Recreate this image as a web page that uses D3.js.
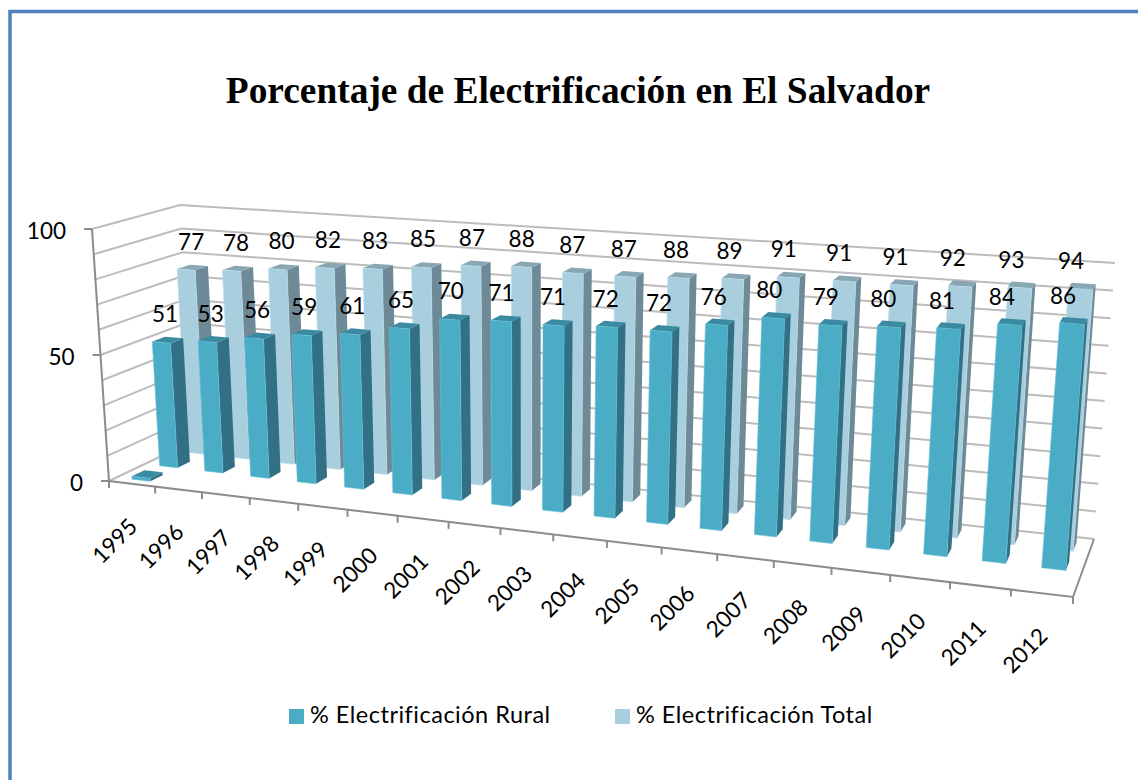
<!DOCTYPE html>
<html>
<head>
<meta charset="utf-8">
<script src="https://cdn.jsdelivr.net/npm/d3@7"></script>
<style>
  html, body { margin: 0; padding: 0; background: #fff; }
  svg { display: block; }
</style>
</head>
<body>
<div id="dataviz"></div>
<script>
const width = 1138;
const height = 780;

const years = ['1995','1996','1997','1998','1999','2000','2001','2002','2003','2004','2005','2006','2007','2008','2009','2010','2011','2012'];
const ruralValues = [51,53,56,59,61,65,70,71,71,72,72,76,80,79,80,81,84,86];
const totalValues = [77,78,80,82,83,85,87,88,87,87,88,89,91,91,91,92,93,94];
// the small flat block in front of 1995
const blankValues = [0];
const depthSeries = ['blank', 'rural', 'total'];
const yLabels = [0, 50, 100];
const gridValues = d3.range(0, 101, 10);
const legendItems = ['% Electrificación Rural', '% Electrificación Total'];

// box corners in the picture
const corners = {
    fbl: [109, 481], fbr: [1073, 597], bbl: [193, 441], bbr: [1094, 539],
    ftl: [92, 229], ftr: [1097, 297], btl: [180, 205], btr: [1115, 263]
};
const perspective = 1.17;

const xBand = d3.scaleBand().domain(years).range([0, 1]).paddingInner(0.6).paddingOuter(0.3).align(0.56);
const xEdge = d3.scaleLinear().domain([0, years.length]).range([0, 1]);
const depth = d3.scaleBand().domain(depthSeries).range([0, 1]).paddingInner(0.55).paddingOuter(0.275);
const yScale = d3.scaleLinear().domain([0, 100]).range([0, 1]);
// columns sit a touch under the gridlines
const barScale = d3.scaleLinear().domain([0, 100]).range([0, 0.99]);

const warp = (t) => t / (t + (1 - t) * perspective);
const lerp = (a, b, t) => [a[0] + (b[0] - a[0]) * t, a[1] + (b[1] - a[1]) * t];

// across, back, up are all 0..1
function project(across, back, up) {
    const t = warp(across);
    const bottom = lerp(lerp(corners.fbl, corners.fbr, t), lerp(corners.bbl, corners.bbr, t), back);
    const top = lerp(lerp(corners.ftl, corners.ftr, t), lerp(corners.btl, corners.btr, t), back);
    return lerp(bottom, top, up);
}

const poly = (pts) => 'M' + pts.map((p) => p.join(',')).join('L') + 'Z';

const svg = d3.select('#dataviz')
    .append('svg')
    .attr('width', width)
    .attr('height', height);

// page border
svg.append('path')
    .attr('d', 'M10,780V11.5H1138')
    .attr('fill', 'none')
    .attr('stroke', '#4f81bd')
    .attr('stroke-width', 3.5);

svg.append('text')
    .attr('x', 578)
    .attr('y', 103)
    .attr('text-anchor', 'middle')
    .attr('font-family', '"Liberation Serif"')
    .attr('font-weight', 'bold')
    .attr('font-size', 37.4)
    .text('Porcentaje de Electrificación en El Salvador');

// gridlines on the walls
const grid = svg.append('g')
    .attr('fill', 'none')
    .attr('stroke', '#bcbcbc')
    .attr('stroke-width', 2);

grid.selectAll('.wall')
    .data(gridValues)
    .enter()
    .append('path')
    .attr('class', 'wall')
    .attr('d', (v) => {
        const up = yScale(v);
        return d3.line()([project(0, 0, up), project(0, 1, up), project(1, 1, up)]);
    });

// axes
const axisColor = '#8c8c8c';
const axes = svg.append('g')
    .attr('fill', 'none')
    .attr('stroke', axisColor)
    .attr('stroke-width', 2);

axes.append('path').attr('d', d3.line()([project(0, 0, 1), project(0, 0, 0), project(1, 0, 0), project(1, 1, 0)]));

axes.selectAll('.ytick')
    .data(yLabels)
    .enter()
    .append('path')
    .attr('class', 'ytick')
    .attr('d', (v) => {
        const p = project(0, 0, yScale(v));
        return d3.line()([p, [p[0] - 8, p[1]]]);
    });

axes.selectAll('.xtick')
    .data(d3.range(0, years.length + 1))
    .enter()
    .append('path')
    .attr('class', 'xtick')
    .attr('d', (i) => {
        const p = project(xEdge(i), 0, 0);
        return d3.line()([p, [p[0], p[1] + 7]]);
    });

// one column: front, side and top faces
function drawBar(layer, across, series, value, colors) {
    const x0 = xBand(across);
    const x1 = x0 + xBand.bandwidth();
    const d0 = depth(series);
    const d1 = d0 + depth.bandwidth();
    const lift = value === 0 ? 0.012 : barScale(value);

    const bar = layer.append('g');
    bar.append('path')
        .attr('d', poly([project(x1, d0, 0), project(x1, d1, 0), project(x1, d1, lift), project(x1, d0, lift)]))
        .attr('fill', colors.side);
    bar.append('path')
        .attr('d', poly([project(x0, d0, lift), project(x1, d0, lift), project(x1, d1, lift), project(x0, d1, lift)]))
        .attr('fill', colors.top);
    bar.append('path')
        .attr('d', poly([project(x0, d0, 0), project(x1, d0, 0), project(x1, d0, lift), project(x0, d0, lift)]))
        .attr('fill', colors.front)
        .attr('stroke', colors.edge)
        .attr('stroke-width', 0.6);
}

const ruralColors = { front: '#4bacc6', side: '#317085', top: '#3a8aa1', edge: '#63c0d8' };
const totalColors = { front: '#a9cfde', side: '#6e8a97', top: '#88a7b3', edge: '#b8dce9' };

const barLayer = svg.append('g');
years.forEach((year, i) => drawBar(barLayer, year, 'total', totalValues[i], totalColors));
blankValues.forEach((v, i) => drawBar(barLayer, years[i], 'blank', v, ruralColors));
years.forEach((year, i) => drawBar(barLayer, year, 'rural', ruralValues[i], ruralColors));

const labelFont = { family: 'Lato', size: 22.5 };

function addLabels(values, series) {
    svg.append('g')
        .selectAll('text')
        .data(values)
        .enter()
        .append('text')
        .attr('x', (v, i) => project(xBand(years[i]) + xBand.bandwidth() / 2, depth(series), barScale(v) / 2)[0])
        .attr('y', (v, i) => project(xBand(years[i]) + xBand.bandwidth() / 2, depth(series), barScale(v))[1] - 20)
        .attr('text-anchor', 'middle')
        .attr('font-family', labelFont.family)
        .attr('font-size', labelFont.size)
        .attr('fill', '#000')
        .text((v) => v);
}
addLabels(totalValues, 'total');
addLabels(ruralValues, 'rural');

// y labels
svg.append('g')
    .selectAll('text')
    .data(yLabels)
    .enter()
    .append('text')
    .attr('x', (v) => project(0, 0, yScale(v))[0] - 26)
    .attr('y', (v) => project(0, 0, yScale(v))[1] + 10)
    .attr('text-anchor', 'end')
    .attr('font-family', labelFont.family)
    .attr('font-size', labelFont.size)
    .text((v) => v);

// x labels
svg.append('g')
    .selectAll('text')
    .data(years)
    .enter()
    .append('text')
    .attr('transform', (year) => {
        const p = project(xBand(year) + xBand.bandwidth() / 2, 0, 0);
        return `translate(${p[0] + 5},${p[1] + 44}) rotate(-45)`;
    })
    .attr('text-anchor', 'end')
    .attr('font-family', labelFont.family)
    .attr('font-size', labelFont.size)
    .text((year) => year);

// legend
const legendX = d3.scaleOrdinal().domain(legendItems).range([289, 615]);
const legendColor = d3.scaleOrdinal().domain(legendItems).range([ruralColors.front, totalColors.front]);

const legend = svg.append('g')
    .selectAll('g')
    .data(legendItems)
    .enter()
    .append('g');

legend.append('rect')
    .attr('x', (d) => legendX(d))
    .attr('y', 709)
    .attr('width', 15)
    .attr('height', 15)
    .attr('fill', (d) => legendColor(d));

legend.append('text')
    .attr('x', (d) => legendX(d) + 21)
    .attr('y', 723)
    .attr('font-family', labelFont.family)
    .attr('font-size', 23.5)
    .attr('letter-spacing', 0.5)
    .text((d) => d);
</script>
</body>
</html>
